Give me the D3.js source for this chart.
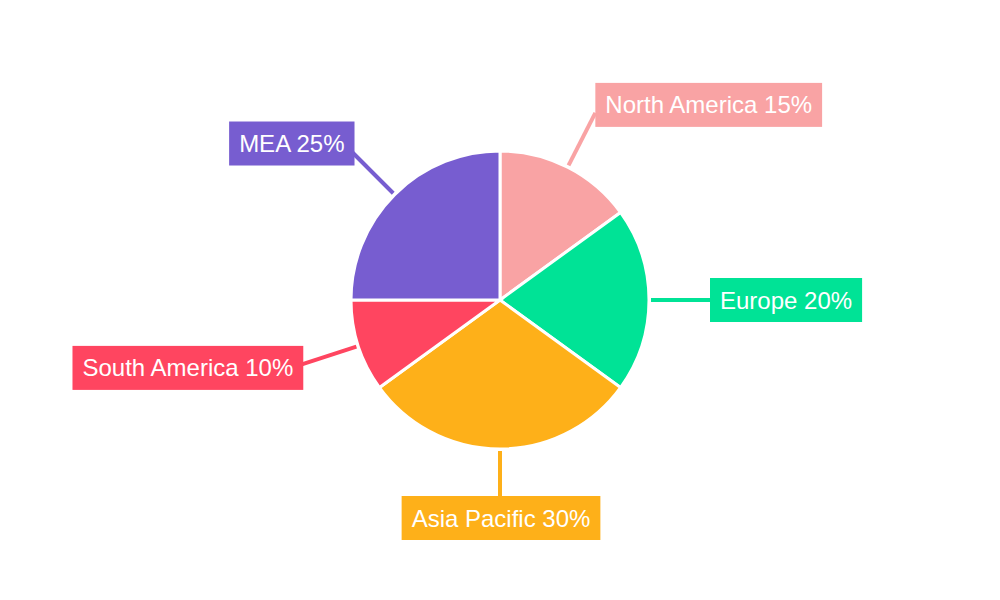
<!DOCTYPE html>
<html>
<head>
<meta charset="utf-8">
<script src="https://cdn.jsdelivr.net/npm/d3@7"></script>
<style>
  body { margin: 0; background: #fff; }
  text { font-family: "Liberation Sans", Arial, sans-serif; }
</style>
</head>
<body>
<div id="chart"></div>
<script>
const regions = ['North America', 'Europe', 'Asia Pacific', 'South America', 'MEA']
const shares = [15, 20, 30, 10, 25]
const colors = ['#f9a3a4', '#00e396', '#feb019', '#ff4560', '#775dd0']

const width = 1000, height = 600
const cx = 500, cy = 300, radius = 149

const svg = d3.select('#chart').append('svg')
  .attr('width', width).attr('height', height)

const g = svg.append('g').attr('transform', `translate(${cx},${cy})`)

const pie = d3.pie().sort(null).value(d => d.value)
const arcs = pie(regions.map((r, i) => ({ label: r, value: shares[i], color: colors[i] })))

const arc = d3.arc().innerRadius(0).outerRadius(radius)

// slices
g.selectAll('path.slice')
  .data(arcs)
  .enter()
  .append('path')
  .attr('class', 'slice')
  .attr('d', arc)
  .attr('fill', d => d.data.color)
  .attr('stroke', '#fff')
  .attr('stroke-width', 3)

const lineStart = 151, lineEnd = 210

arcs.forEach(d => {
  const a = (d.startAngle + d.endAngle) / 2
  const s = Math.sin(a), c = -Math.cos(a)
  const x1 = s * lineStart, y1 = c * lineStart
  const x2 = s * lineEnd, y2 = c * lineEnd

  g.append('line')
    .attr('x1', x1).attr('y1', y1).attr('x2', x2).attr('y2', y2)
    .attr('stroke', d.data.color).attr('stroke-width', 4)

  const lg = g.append('g')
  const rect = lg.append('rect').attr('fill', d.data.color)
  const txt = lg.append('text')
    .attr('fill', '#fff')
    .attr('font-size', 24)
    .attr('dominant-baseline', 'central')
    .text(`${d.data.label} ${d.data.value}%`)

  const tw = txt.node().getComputedTextLength()
  const bw = tw + 20, bh = 44

  let bx, by
  if (s > 0.1) bx = x2
  else if (s < -0.1) bx = x2 - bw + 3
  else bx = x2 - bw / 2 + 1
  if (c < -0.5) by = y2 + 14 - bh
  else if (c > 0.5) by = y2 - 14
  else by = y2 - bh / 2 + (s < 0 ? 3 : 0)

  rect.attr('x', bx).attr('y', by).attr('width', bw).attr('height', bh)
  txt.attr('x', bx + 10).attr('y', by + bh / 2)
})
</script>
</body>
</html>
